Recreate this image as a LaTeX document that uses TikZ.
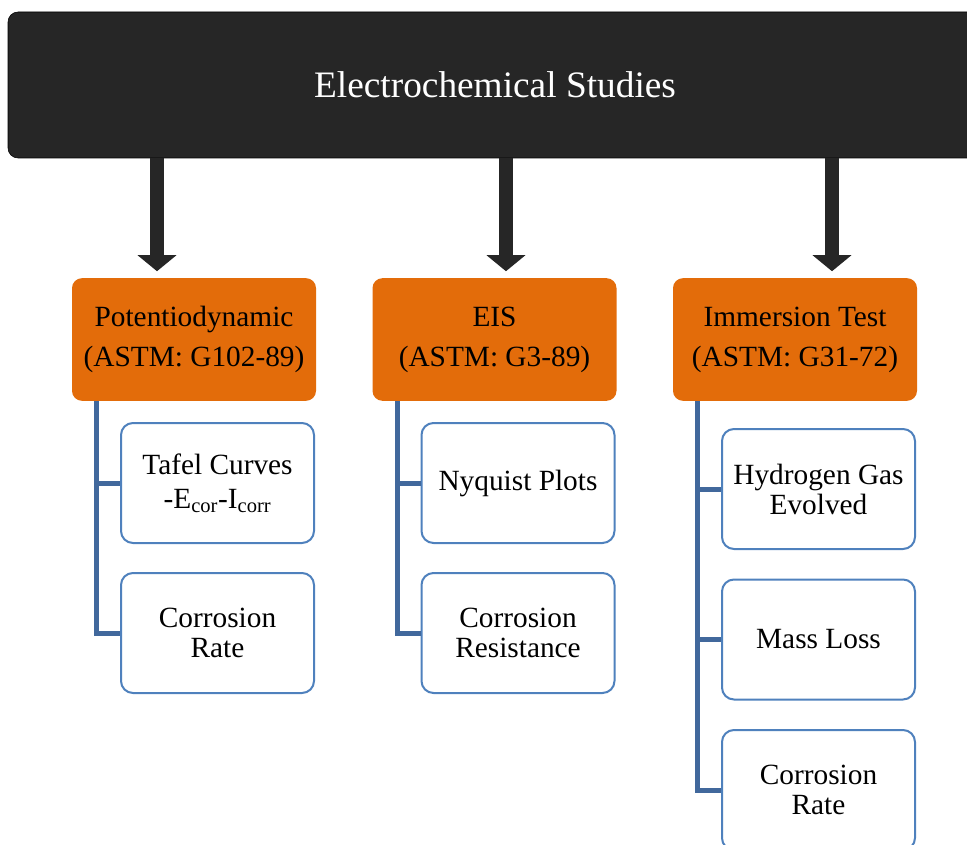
\documentclass[tikz,border=0pt]{standalone}
\usepackage{fontspec}
\setmainfont{Liberation Serif}
\usetikzlibrary{arrows.meta,positioning,calc}
\definecolor{cStudy} {RGB}{38,38,38}
\definecolor{cMethod}{RGB}{227,108,10}
\definecolor{cSpine} {RGB}{65,104,156}
\definecolor{cLeaf}  {RGB}{79,129,189}
\tikzset{
  studybox/.style={fill=cStudy,draw=black,rounded corners=7.5pt,text=white,
                   minimum width=730.5pt,minimum height=109.5pt,
                   font=\fontsize{28}{34}\selectfont},
  methodbox/.style={fill=cMethod,rounded corners=7.5pt,inner sep=0pt,
                    minimum width=183pt,minimum height=92pt,align=center,
                    font=\fontsize{22}{30}\selectfont},          % orange test method
  resultbox/.style={draw=cLeaf,line width=1.5pt,fill=white,rounded corners=9pt,
                    minimum width=144.75pt,minimum height=90pt,inner sep=0pt,
                    align=center,font=\fontsize{22}{22.5}\selectfont}, % outcome
  feed/.style={cStudy,line width=11pt,shorten >=5pt,
               -{Triangle[width=28.5pt,length=12pt]}},           % block arrow
  spine/.style={cSpine,line width=3.75pt},
}
\begin{document}
\begin{tikzpicture}[x=0.75pt,y=-0.75pt]
  \useasboundingbox (0,0) rectangle (967,845);
  \clip (0,0) rectangle (967,845);

  % top banner
  \node[studybox] (study) at (495,85) {Electrochemical Studies};

  % the three test methods
  \node[methodbox] (pot) at (194,339.5)   {Potentiodynamic\\(ASTM: G102-89)};
  \node[methodbox] (eis) at (494.5,339.5) {EIS\\(ASTM: G3-89)};
  \node[methodbox] (imm) at (795,339.5)   {Immersion Test\\(ASTM: G31-72)};

  \foreach \m/\dx in {pot/-27.75pt,eis/8.6pt,imm/27.75pt}
    \draw[feed] ([xshift=\dx]\m.north |- study.south) -- ([xshift=\dx]\m.north);

  % outcomes of each method
  \node[resultbox] (tafel) at (217.5,483) {Tafel Curves\\[3pt]-E\textsubscript{cor}-I\textsubscript{corr}};
  \node[resultbox] (rate1) at (217.5,633) {Corrosion\\Rate};
  \node[resultbox] (nyq)   at (518,483)   {Nyquist Plots};
  \node[resultbox] (resis) at (518,633)   {Corrosion\\Resistance};
  \node[resultbox] (hyd)   at (818.5,489) {Hydrogen Gas\\Evolved};
  \node[resultbox] (mass)  at (818.5,639.5){Mass Loss};
  \node[resultbox] (rate2) at (818.5,790) {Corrosion\\Rate};

  % blue tree lines
  \foreach \m/\r in {pot/tafel,pot/rate1,eis/nyq,eis/resis,imm/hyd,imm/mass,imm/rate2}
    \draw[spine] ([xshift=18.75pt]\m.south west) |- (\r.west);
\end{tikzpicture}
\end{document}
